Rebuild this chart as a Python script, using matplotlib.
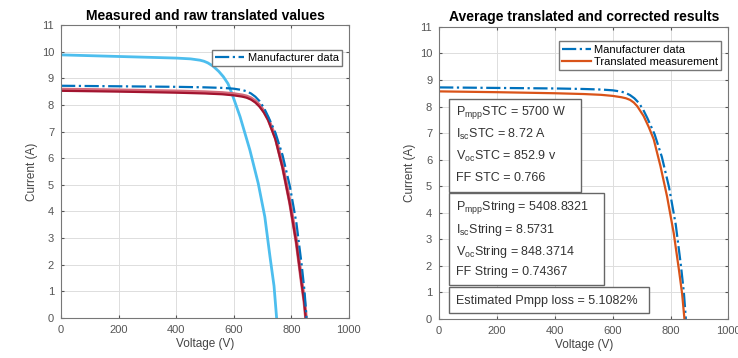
import numpy as np
import matplotlib.pyplot as plt
from matplotlib.patches import Rectangle

plt.rcParams['font.family'] = ['Liberation Sans', 'DejaVu Sans']
plt.rcParams['mathtext.default'] = 'regular'

# Manufacturer IV curve (STC)
v_man = [0, 200, 400, 500, 560, 600, 630, 645, 660, 675, 690, 705, 720, 745, 770, 795, 818, 836, 846, 853]
i_man = [8.72, 8.70, 8.68, 8.66, 8.64, 8.61, 8.56, 8.51, 8.43, 8.31, 8.14, 7.89, 7.56, 6.95, 6.10, 4.95, 3.55, 2.00, 1.00, 0.0]

# Raw measured curve (left, light blue)
v_raw = [0, 200, 400, 450, 483, 497, 510, 529, 548, 564, 580, 593, 622, 656, 685, 708, 726, 740, 749]
i_raw = [9.88, 9.82, 9.76, 9.73, 9.68, 9.64, 9.58, 9.45, 9.26, 9.06, 8.80, 8.45, 7.56, 6.31, 5.06, 3.80, 2.30, 1.20, 0.0]

# Raw translated curves (left, red)
v_tr1 = [0, 200, 400, 500, 560, 600, 630, 645, 660, 675, 690, 705, 720, 745, 770, 795, 818, 836, 845, 851]
i_tr1 = [8.58, 8.55, 8.51, 8.48, 8.45, 8.41, 8.36, 8.32, 8.25, 8.14, 7.98, 7.76, 7.46, 6.78, 5.70, 4.35, 2.85, 1.35, 0.65, 0.0]
v_tr2 = [0, 200, 400, 500, 560, 600, 630, 645, 660, 675, 690, 705, 720, 745, 770, 795, 818, 836, 845, 850]
i_tr2 = [8.53, 8.50, 8.46, 8.43, 8.40, 8.36, 8.31, 8.27, 8.20, 8.09, 7.93, 7.71, 7.42, 6.70, 5.62, 4.28, 2.78, 1.28, 0.58, 0.0]

# Average translated and corrected curve (right, orange)
v_avg = [0, 200, 400, 500, 560, 600, 630, 646, 660, 673, 685, 707, 725, 742, 765, 788, 811, 829, 840, 848]
i_avg = [8.57, 8.54, 8.50, 8.47, 8.44, 8.40, 8.35, 8.31, 8.25, 8.15, 8.01, 7.64, 7.22, 6.76, 5.76, 4.61, 3.23, 1.85, 0.95, 0.0]

box_stc = [r"P$_{mpp}$STC = 5700 W", r"I$_{sc}$STC = 8.72 A", r"V$_{oc}$STC = 852.9 v", "FF STC = 0.766"]
box_str = [r"P$_{mpp}$String = 5408.8321", r"I$_{sc}$String = 8.5731", r"V$_{oc}$String = 848.3714", "FF String = 0.74367"]
loss_txt = "Estimated Pmpp loss = 5.1082%"

c_man = '#0072BD'
c_raw = '#4DBEEE'
c_red = '#A2142F'
c_org = '#D95319'

fig = plt.figure(figsize=(7.38, 3.58), dpi=100)
ax1 = fig.add_axes([0.0827, 0.112, 0.390, 0.818])
ax2 = fig.add_axes([0.595, 0.109, 0.392, 0.816])

for ax in (ax1, ax2):
    ax.set_xlim(0, 1000)
    ax.set_ylim(0, 11)
    ax.set_xticks(np.arange(0, 1001, 200))
    ax.set_yticks(np.arange(0, 12, 1))
    ax.grid(True, color='#dddddd', lw=0.7)
    ax.set_axisbelow(True)
    ax.tick_params(direction='in', labelsize=8, colors='#555555', length=2.5, pad=5,
                   top=True, right=True, labeltop=False, labelright=False)
    for s in ax.spines.values():
        s.set_color('#777777')
        s.set_linewidth(0.8)
    ax.set_xlabel("Voltage (V)", fontsize=8.5, color='#444444', labelpad=2)
    ax.set_ylabel("Current (A)", fontsize=8.5, color='#444444', labelpad=3)

# left panel
ax1.plot(v_raw, i_raw, color=c_raw, lw=2.0)
ax1.plot(v_tr1, i_tr1, color='#d46a7a', lw=2.6)
ax1.plot(v_tr2, i_tr2, color=c_red, lw=1.6)
ax1.plot(v_man, i_man, color=c_man, lw=1.6, ls='-.', label="Manufacturer data")
ax1.set_title("Measured and raw translated values", fontsize=10, fontweight='bold', pad=4)
leg1 = ax1.legend(loc='upper right', fontsize=8, handlelength=2.6, handletextpad=0.3, borderpad=0.3,
                  fancybox=False, framealpha=1, bbox_to_anchor=(0.995, 0.935))
leg1.get_frame().set_edgecolor('#777777')

# right panel
ax2.plot(v_man, i_man, color=c_man, lw=1.6, ls='-.', label="Manufacturer data")
ax2.plot(v_avg, i_avg, color=c_org, lw=1.6, label="Translated measurement")
ax2.set_title("Average translated and corrected results", fontsize=10, fontweight='bold', pad=4)
leg2 = ax2.legend(loc='upper right', fontsize=8, handlelength=2.6, handletextpad=0.3, borderpad=0.3,
                  labelspacing=0.2, fancybox=False, framealpha=1, bbox_to_anchor=(0.995, 0.97))
leg2.get_frame().set_edgecolor('#777777')

# annotation boxes (data coords: x0, x1, y0, y1)
for x0, x1, y0, y1 in [(34, 491, 4.8, 8.3), (34, 571, 1.28, 4.75), (34, 727, 0.23, 1.2)]:
    ax2.add_patch(Rectangle((x0, y0), x1 - x0, y1 - y0, fc='white', ec='#666666', lw=1.0, zorder=3))
for txt, y in zip(box_stc, [7.77, 6.94, 6.11, 5.32]):
    ax2.text(59, y, txt, fontsize=9, va='center', ha='left', color='#333333', zorder=4)
for txt, y in zip(box_str, [4.19, 3.36, 2.53, 1.77]):
    ax2.text(59, y, txt, fontsize=9, va='center', ha='left', color='#333333', zorder=4)
ax2.text(59, 0.68, loss_txt, fontsize=9, va='center', ha='left', color='#333333', zorder=4)

fig.savefig("out.png", dpi=100)
